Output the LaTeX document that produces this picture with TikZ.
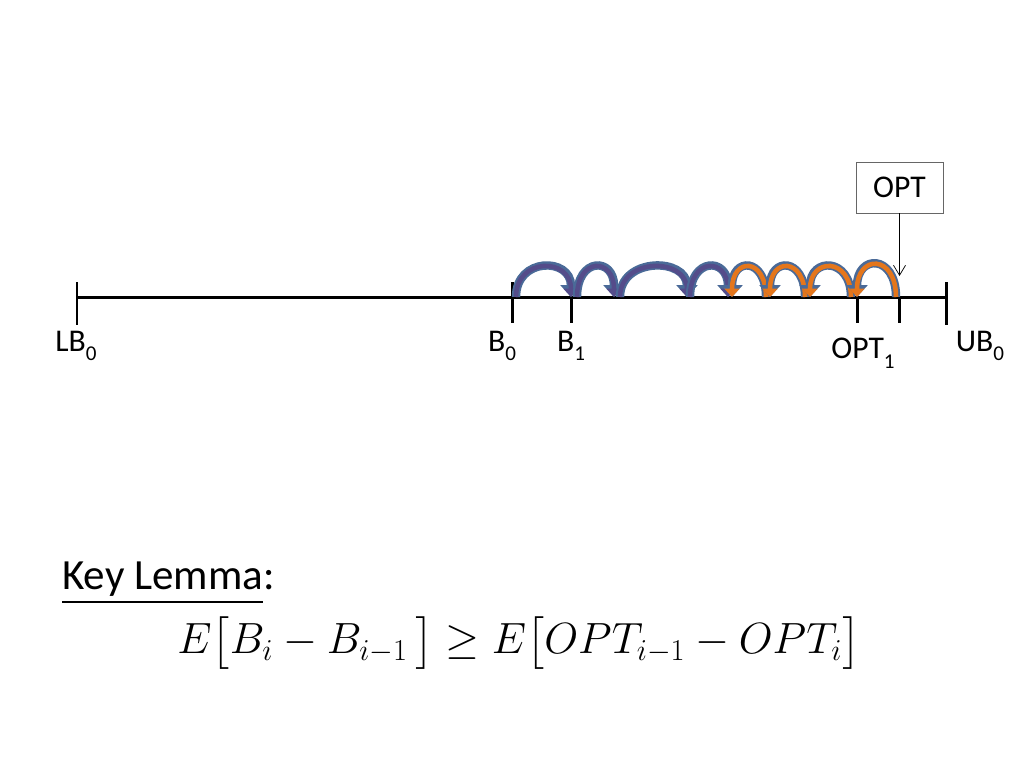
\documentclass[tikz,border=0pt]{standalone}
\usepackage{amsmath}
\usepackage{amssymb}
\usepackage{fontspec}
\setmainfont{Carlito}
\usepackage{tikz}
\usetikzlibrary{arrows.meta}

\definecolor{hopedge}{RGB}{74,106,152}
\definecolor{hopblue}{RGB}{84,76,138}
\definecolor{hoporange}{RGB}{228,118,28}

\tikzset{
	tick/.style={line width=1.7pt},
	lbl/.style={font=\fontsize{18}{20}\selectfont, inner sep=0pt},
	hop/.style={line width=2.6pt, draw=#1,
		-{Triangle[width=0.3cm,length=0.17cm]},
		preaction={draw=hopedge, line width=4.8pt, -{Triangle[width=0.42cm,length=0.24cm]}}},
}
\newcommand\sub[2]{#1\raisebox{-0.3em}{\fontsize{12}{12}\selectfont #2}}

\begin{document}
\begin{tikzpicture}[x=0.02cm,y=-0.02cm]
			\useasboundingbox (0,0) rectangle (1024,768);
			
			% the number line
			\coordinate (lb) at (77,297);
			\coordinate (ub) at (946,297);
			\draw[tick] (lb) -- (ub);
			\draw[tick] (77,282) -- (77,325);
			\draw[tick] (946,282) -- (946,325);
			\draw[tick] (512,282) -- (512,323);
			\draw[tick] (571,297) -- (571,323);
			\draw[tick] (857,297) -- (857,323);
			\draw[tick] (899,297) -- (899,323);
			
			\node	(lblLB) at (76,346) [lbl] {\sub{LB}{0}};
			\node	(lblB0) at (502,346) [lbl] {\sub{B}{0}};
			\node	(lblB1) at (571,346) [lbl] {\sub{B}{1}};
			\node	(lblOPT1) at (863,353) [lbl] {\sub{OPT}{1}};
			\node	(lblUB) at (980,346) [lbl] {\sub{UB}{0}};
			
			% hops
			\coordinate (b0) at (516,297);
			\coordinate (b1) at (571,297);
			\coordinate (b1s) at (577,297);
			\coordinate (b2) at (614,297);
			\coordinate (b2s) at (620,297);
			\coordinate (b3) at (687,297);
			\coordinate (b3s) at (690,297);
			\coordinate (b4) at (728,297);
			\coordinate (o0) at (896,297);
			\coordinate (o1) at (857,297);
			\coordinate (o1s) at (851,297);
			\coordinate (o2) at (810,297);
			\coordinate (o2s) at (805,297);
			\coordinate (o3) at (770,297);
			\coordinate (o3s) at (766,297);
			\coordinate (o4) at (732,297);
			
			\draw[hop=hopblue] (b0) .. controls +(0,-40) and +(0,-40) .. (b1);
			\draw[hop=hopblue] (b1s) .. controls +(0,-40) and +(0,-40) .. (b2);
			\draw[hop=hopblue] (b2s) .. controls +(0,-40) and +(0,-40) .. (b3);
			\draw[hop=hopblue] (b3s) .. controls +(0,-40) and +(0,-40) .. (b4);
			\draw[hop=hoporange] (o3s) .. controls +(0,-40) and +(0,-40) .. (o4);
			\draw[hop=hoporange] (o2s) .. controls +(0,-40) and +(0,-40) .. (o3);
			\draw[hop=hoporange] (o1s) .. controls +(0,-40) and +(0,-40) .. (o2);
			\draw[hop=hoporange] (o0) .. controls +(0,-43) and +(0,-43) .. (o1);
			
			% OPT box
			\node	(opt) at (899.5,187.5) [draw=black!60, minimum width=1.74cm, minimum height=1.02cm, lbl] {OPT};
			\coordinate (optpt) at (899.5,276);
			\draw[-{Straight Barb[length=2mm,width=2.4mm]}, thin] (opt) -- (optpt);
			
			% lemma
			\node	(key) at (62,583) [anchor=west, font=\fontsize{24.5}{26}\selectfont, inner sep=0pt] {\underline{Key Lemma}:};
			\node	(lemma) at (177,643) [anchor=west, font=\fontsize{25}{28}\selectfont, inner sep=0pt]
				{$E\bigl[B_i - B_{i-1}\,\bigr] \geq E\bigl[OPT_{i-1} - OPT_i\bigr]$};
		\end{tikzpicture}
\end{document}
